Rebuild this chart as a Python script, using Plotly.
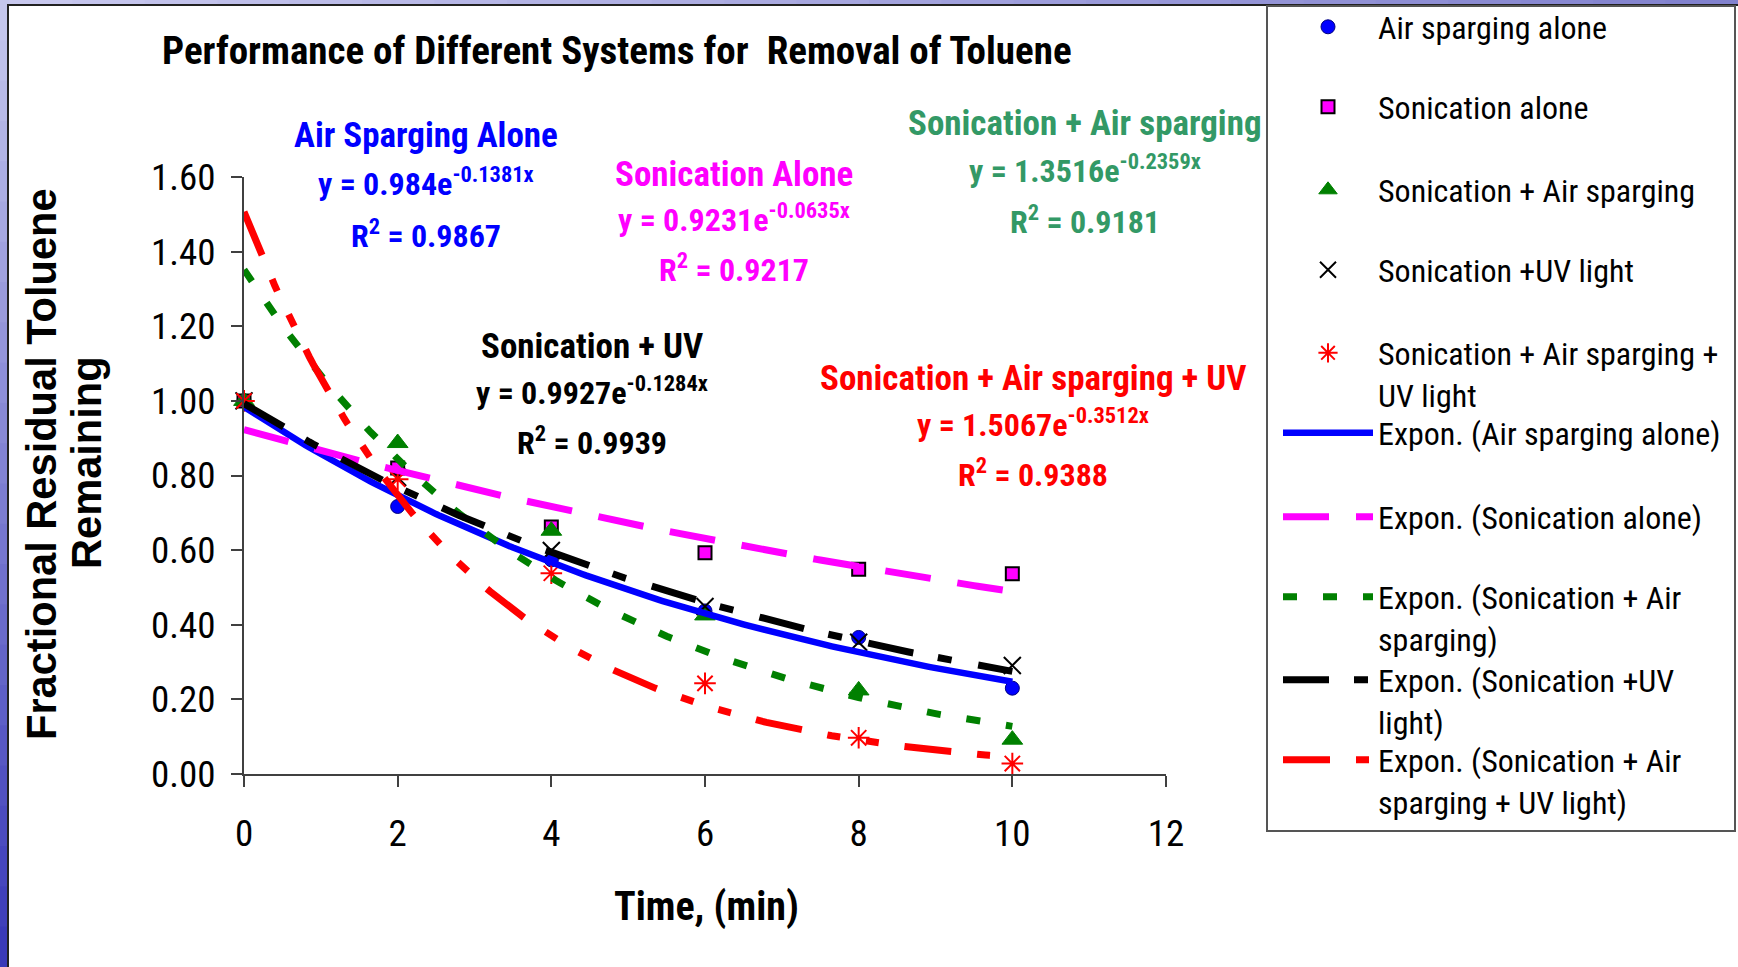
import numpy as np
import plotly.graph_objects as go

W, H = 1738, 967
PL, PR, PT, PB = 244, 1166, 177, 774  # plot-area pixel edges


def px_x(p):
    return (p - PL) / (PR - PL)


def px_y(p):
    return (PB - p) / (PB - PT)


NARROW = "Liberation Sans Narrow, Noto Sans Condensed, Roboto Condensed, Arial Narrow, Liberation Sans, Arial, sans-serif"
WIDE = "Liberation Sans, Arial, sans-serif"

# ---------------- data ----------------
times = [0, 2, 4, 6, 8, 10]
air_sparging = [1.00, 0.717, 0.574, 0.437, 0.366, 0.230]
sonication = [1.00, 0.820, 0.662, 0.593, 0.549, 0.537]
son_air = [1.00, 0.887, 0.652, 0.425, 0.224, 0.092]
son_uv = [1.00, 0.795, 0.599, 0.449, 0.353, 0.291]
son_air_uv = [1.00, 0.790, 0.538, 0.243, 0.097, 0.028]

legend_names = ["Air sparging alone", "Sonication alone", "Sonication + Air sparging",
                "Sonication +UV light", "Sonication + Air sparging +<br>UV light"]
fit_legend_names = ["Expon. (Air sparging alone)", "Expon. (Sonication alone)",
                    "Expon. (Sonication + Air<br>sparging)", "Expon. (Sonication +UV<br>light)",
                    "Expon. (Sonication + Air<br>sparging + UV light)"]
fit_a = [0.984, 0.9231, 1.3516, 0.9927, 1.5067]
fit_b = [-0.1381, -0.0635, -0.2359, -0.1284, -0.3512]
r_squared = [0.9867, 0.9217, 0.9181, 0.9939, 0.9388]
label_titles = ["Air Sparging Alone", "Sonication Alone", "Sonication + Air sparging",
                "Sonication + UV", "Sonication + Air sparging + UV"]
x_ticks = [0, 2, 4, 6, 8, 10, 12]
y_ticks = [0.0, 0.2, 0.4, 0.6, 0.8, 1.0, 1.2, 1.4, 1.6]

all_series = [air_sparging, sonication, son_air, son_uv, son_air_uv]

# ---------------- styles ----------------
marker_styles = [
    dict(symbol="circle", size=14, color="#0000FF", line=dict(color="#000080", width=1)),
    dict(symbol="square", size=13, color="#FF00FF", line=dict(color="#000000", width=2)),
    dict(symbol="triangle-up", size=18, color="#008000", line=dict(color="#008000", width=1)),
    dict(symbol="x-thin-open", size=17, color="#000000", line=dict(color="#000000", width=2)),
    dict(symbol="asterisk-open", size=18, color="#FF0000", line=dict(color="#FF0000", width=2)),
]
line_styles = [
    dict(color="#0000FF", width=6.5, dash="solid"),
    dict(color="#FF00FF", width=7, dash="46px,27px"),
    dict(color="#008000", width=7, dash="14px,26px"),
    dict(color="#000000", width=7, dash="46px,25px,14px,27px"),
    dict(color="#FF0000", width=7, dash="47px,26px,13px,26px,13px,26px"),
]
text_colors = ["#0000FF", "#FF00FF", "#339966", "#000000", "#FF0000"]
# annotation block positions (pixel centres): x, title y, equation y, R2 y
label_pos = [(426, 136, 186, 238), (734, 174, 222, 272), (1085, 123, 173, 224),
             (592, 346, 395, 445), (1033, 378, 427, 477)]
marker_legend_y = [27, 107, 190, 270, 374]
fit_legend_y = [433, 517, 618, 701, 781]
LEG_X = 1278

fig = go.Figure()
legend_cfg = {}
k = 0
for i, ys in enumerate(all_series):
    k += 1
    lname = "legend" if k == 1 else f"legend{k}"
    fig.add_trace(go.Scatter(x=times, y=ys, mode="markers", name=legend_names[i],
                             marker=marker_styles[i], legend=lname, cliponaxis=False))
    legend_cfg[lname] = marker_legend_y[i]

xfit = np.linspace(0, 10, 201)
for i in range(5):
    k += 1
    lname = f"legend{k}"
    yfit = fit_a[i] * np.exp(fit_b[i] * xfit)
    fig.add_trace(go.Scatter(x=xfit, y=yfit, mode="lines", name=fit_legend_names[i],
                             line=line_styles[i], legend=lname))
    legend_cfg[lname] = fit_legend_y[i]

layout_legends = {}
for lname, ypx in legend_cfg.items():
    layout_legends[lname] = dict(
        x=px_x(LEG_X), y=px_y(ypx), xanchor="left", yanchor="middle",
        bgcolor="rgba(0,0,0,0)", borderwidth=0, valign="top", itemwidth=90,
        font=dict(family=NARROW, size=32, color="#000000"), tracegroupgap=0,
    )

shapes = []


def lerp(c1, c2, t):
    return "rgb(%d,%d,%d)" % tuple(int(round(a + (b - a) * t)) for a, b in zip(c1, c2))


nseg = 24
for j in range(nseg):
    t = j / (nseg - 1)
    shapes.append(dict(type="rect", xref="paper", yref="paper", layer="below",
                       x0=px_x(j * W / nseg), x1=px_x((j + 1) * W / nseg + 1),
                       y0=px_y(0), y1=px_y(8), line=dict(width=0),
                       fillcolor=lerp((200, 200, 238), (130, 130, 206), t)))
    shapes.append(dict(type="rect", xref="paper", yref="paper", layer="below",
                       x0=px_x(0), x1=px_x(9),
                       y0=px_y(j * H / nseg), y1=px_y((j + 1) * H / nseg + 1), line=dict(width=0),
                       fillcolor=lerp((196, 198, 236), (58, 58, 184), t)))
# white chart area with dark frame
shapes.append(dict(type="rect", xref="paper", yref="paper", layer="below",
                   x0=px_x(8), x1=px_x(W + 5), y0=px_y(5), y1=px_y(H + 5),
                   line=dict(color="#222222", width=2), fillcolor="white"))
# legend frame
shapes.append(dict(type="rect", xref="paper", yref="paper", layer="below",
                   x0=px_x(1267), x1=px_x(1735), y0=px_y(6), y1=px_y(831),
                   line=dict(color="#555555", width=2), fillcolor="rgba(0,0,0,0)"))

annotations = []
for i in range(5):
    cx, ty, ey, ry = label_pos[i]
    col = text_colors[i]
    annotations.append(dict(text=label_titles[i], x=px_x(cx), y=px_y(ty), xref="paper", yref="paper",
                            showarrow=False, xanchor="center", yanchor="middle",
                            font=dict(family=NARROW, size=35, color=col, weight="bold")))
    annotations.append(dict(text=f"y = {fit_a[i]}e<sup>{fit_b[i]}x</sup>", x=px_x(cx), y=px_y(ey - 4),
                            xref="paper", yref="paper", showarrow=False, xanchor="center",
                            yanchor="middle", font=dict(family=NARROW, size=32, color=col, weight="bold")))
    annotations.append(dict(text=f"R<sup>2</sup> = {r_squared[i]}", x=px_x(cx), y=px_y(ry - 4),
                            xref="paper", yref="paper", showarrow=False, xanchor="center",
                            yanchor="middle", font=dict(family=NARROW, size=32, color=col, weight="bold")))

annotations.append(dict(text="Performance of Different Systems for  Removal of Toluene",
                        x=px_x(617), y=px_y(51), xref="paper", yref="paper", showarrow=False,
                        xanchor="center", yanchor="middle",
                        font=dict(family=NARROW, size=39, color="#000000", weight="bold")))
annotations.append(dict(text="Time, (min)", x=px_x(706), y=px_y(907), xref="paper", yref="paper",
                        showarrow=False, xanchor="center", yanchor="middle",
                        font=dict(family=NARROW, size=40, color="#000000", weight="bold")))
annotations.append(dict(text="Fractional Residual Toluene", x=px_x(41), y=px_y(464), xref="paper",
                        yref="paper", showarrow=False, xanchor="center", yanchor="middle", textangle=-90,
                        font=dict(family=WIDE, size=41.6, color="#000000", weight="bold")))
annotations.append(dict(text="Remaining", x=px_x(86), y=px_y(463), xref="paper",
                        yref="paper", showarrow=False, xanchor="center", yanchor="middle", textangle=-90,
                        font=dict(family=WIDE, size=41.6, color="#000000", weight="bold")))

fig.update_layout(
    width=W, height=H,
    margin=dict(l=PL, r=W - PR, t=PT, b=H - PB, pad=0, autoexpand=False),
    paper_bgcolor="rgb(150,150,214)", plot_bgcolor="white",
    showlegend=True,
    shapes=shapes, annotations=annotations,
    **layout_legends,
)
fig.update_xaxes(range=[0, 12], tickvals=x_ticks, ticktext=[str(v) for v in x_ticks],
                 showgrid=False, zeroline=False, showline=True, linecolor="#404040", linewidth=2,
                 ticks="outside", ticklen=11, tickwidth=1.5, tickcolor="#404040",
                 tickfont=dict(family=NARROW, size=37, color="#000000"), ticklabelstandoff=15)
fig.update_yaxes(range=[0, 1.6], tickvals=y_ticks, ticktext=[f"{v:.2f}" for v in y_ticks],
                 showgrid=False, zeroline=False, showline=True, linecolor="#404040", linewidth=2,
                 ticks="outside", ticklen=11, tickwidth=1.5, tickcolor="#404040",
                 tickfont=dict(family=NARROW, size=37, color="#000000"), ticklabelstandoff=8)

fig.write_html("out.html", config={"displayModeBar": False},
               post_script="document.body.style.margin='0';")
